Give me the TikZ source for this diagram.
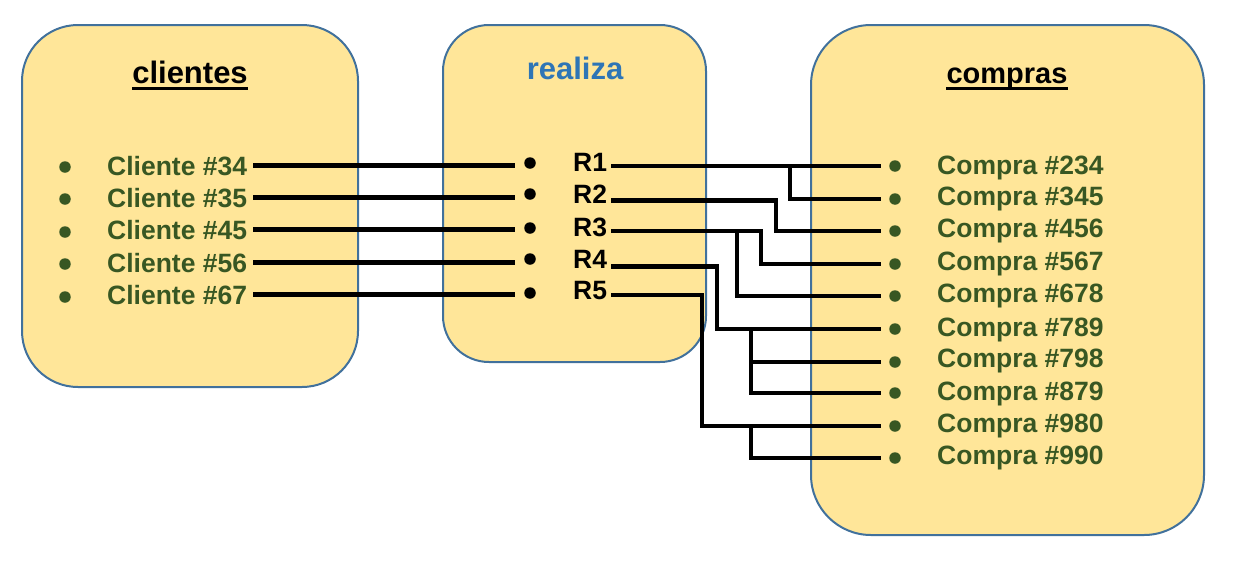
\documentclass[tikz,border=0pt]{standalone}
\usepackage{fontspec}
\setmainfont{Liberation Sans}
\definecolor{boxfill}{HTML}{FFE699}
\definecolor{boxblue}{HTML}{41719C}
\definecolor{itemgreen}{HTML}{385723}
\definecolor{titleblue}{HTML}{2E75B6}
\begin{document}
\begin{tikzpicture}[x=1pt,y=-1pt,
  box/.style={draw=boxblue, line width=2pt, fill=boxfill, inner sep=0pt, rectangle},
  item/.style={font=\fontsize{26.5pt}{30pt}\selectfont\bfseries, text=itemgreen, anchor=base west, inner sep=0pt},
  rlab/.style={item, text=black},
  title/.style={font=\fontsize{31pt}{36pt}\selectfont\bfseries, anchor=base, inner sep=0pt},
  gdot/.style={circle, fill=itemgreen, minimum size=11.5pt, inner sep=0pt},
  kdot/.style={gdot, fill=black},
  conn/.style={line width=4.6pt, line join=miter},
  uline/.style={line width=3pt}]
\useasboundingbox (0,0) rectangle (1239,560);

% boxes
\node[box, minimum width=336pt, minimum height=362pt, rounded corners=56pt] (clbox) at (190,206) {};
\node[box, minimum width=263pt, minimum height=337pt, rounded corners=46pt] (rebox) at (574.5,193.5) {};
\node[box, minimum width=393pt, minimum height=510pt, rounded corners=60pt] (cobox) at (1007.5,280) {};

% titles
\node[title] (tcl) at (190,83) {clientes};
\draw[uline] ([yshift=-5pt]tcl.base west) -- ([yshift=-5pt]tcl.base east);
\node[title, text=titleblue] (tre) at (575,79) {realiza};
\node[title, font=\fontsize{29pt}{34pt}\selectfont\bfseries] (tco) at (1007,83) {compras};
\draw[uline] ([yshift=-5pt]tco.base west) -- ([yshift=-5pt]tco.base east);

% clientes
\foreach \i/\b/\d/\n in {1/175/167/34,2/207/199/35,3/239/232/45,4/272/264/56,5/304/297/67}{
  \node[gdot] (cd\i) at (65,\d) {};
  \node[item] (cl\i) at (107,\b) {Cliente \#\n};
}
% realiza
\foreach \i/\b/\d in {1/171/163,2/203/194,3/236/228,4/268/259,5/299/293}{
  \node[kdot] (rb\i) at (530,\d) {};
  \node[rlab] (r\i) at (573,\b) {R\i};
}
% compras
\foreach \i/\b/\d/\n in {1/174/166/234,2/205/199/345,3/237/231/456,4/270/264/567,5/302/296/678,
                         6/336/329/789,7/367/362/798,8/400/393/879,9/432/426/980,10/464/458/990}{
  \node[gdot] (cb\i) at (895,\d) {};
  \node[item] (co\i) at (937,\b) {Compra \#\n};
  \coordinate (pw\i) at ([xshift=-8pt]cb\i.west);
}

% clientes -> realiza
\foreach \i in {1,...,5}{
  \draw[conn, shorten >=9pt] ([xshift=6pt]cl\i.east) -- (cl\i.east -| rb\i.west);
}

% realiza -> compras
\coordinate (re1) at (611,166);
\coordinate (re2) at (611,200.5);
\coordinate (re3) at (611,231);
\coordinate (re4) at (611,266.5);
\coordinate (re5) at (611,295);
\coordinate (j1) at (790,0);
\coordinate (j2) at (776,0);
\coordinate (j3a) at (761,0);
\coordinate (j3b) at (737,0);
\coordinate (j4) at (717,0);
\coordinate (j4b) at (751,0);
\coordinate (j5) at (702,0);
\coordinate (j5b) at (751,0);

\draw[conn] (re1) -- (re1 -| pw1);
\draw[conn] (j1 |- re1) |- (pw2);
\draw[conn] (re2) -| (j2 |- pw3) -- (pw3);
\draw[conn] (re3) -| (j3a |- pw4) -- (pw4);
\draw[conn] (j3b |- re3) |- (pw5);
\draw[conn] (re4) -| (j4 |- pw6) -- (pw6);
\draw[conn] (j4b |- pw6) |- (pw8);
\draw[conn] (j4b |- pw7) -- (pw7);
\draw[conn] (re5) -| (j5 |- pw9) -- (pw9);
\draw[conn] (j5b |- pw9) |- (pw10);
\end{tikzpicture}
\end{document}
